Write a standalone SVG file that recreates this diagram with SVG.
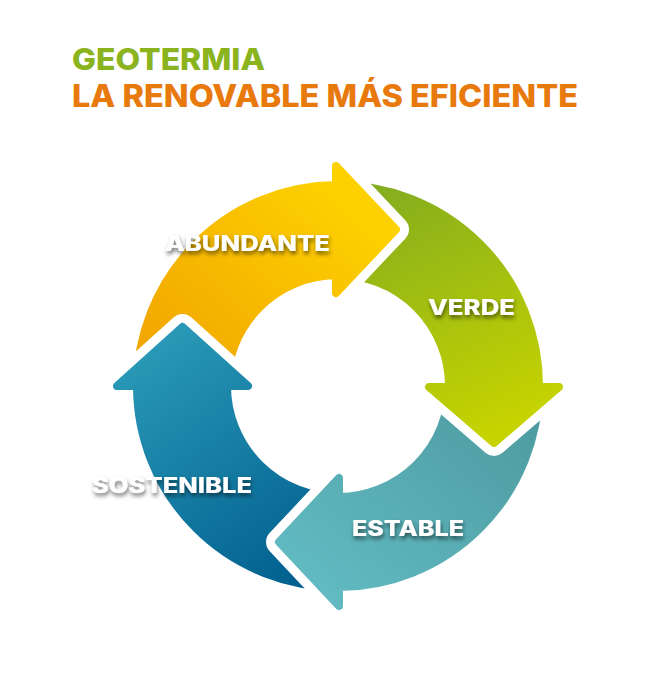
<svg xmlns="http://www.w3.org/2000/svg" width="671" height="676" viewBox="0 0 671 676">
<style>
.title{font-family:Inter,"Open Sans","Liberation Sans",sans-serif;font-weight:800}
.lbl{font-family:Inter,"Open Sans","Liberation Sans",sans-serif;font-weight:800;font-size:21px;fill:#ffffff;filter:url(#sh)}
.arrow{stroke-width:8;stroke-linejoin:round}
.cut{fill:#000;stroke:#000;stroke-width:26;stroke-linejoin:round}
</style>
<defs>
<linearGradient id="gA" x1="0" y1="1" x2="0.85" y2="0.2"><stop offset="0" stop-color="#f0a000"/><stop offset="1" stop-color="#fdd100"/></linearGradient>
<linearGradient id="gV" x1="0.2" y1="0" x2="0.6" y2="1"><stop offset="0" stop-color="#84ad1e"/><stop offset="1" stop-color="#c6d300"/></linearGradient>
<linearGradient id="gE" x1="1" y1="0" x2="0" y2="1"><stop offset="0" stop-color="#4c999e"/><stop offset="1" stop-color="#64bec6"/></linearGradient>
<linearGradient id="gS" x1="0.2" y1="0" x2="0.8" y2="1"><stop offset="0" stop-color="#2b9ab8"/><stop offset="1" stop-color="#005f8e"/></linearGradient>
<filter id="sh" x="-20%" y="-50%" width="140%" height="200%"><feDropShadow dx="1" dy="3" stdDeviation="2" flood-color="#000" flood-opacity="0.55"/></filter>
<mask id="mV" maskUnits="userSpaceOnUse" x="0" y="0" width="671" height="676"><rect width="671" height="676" fill="#fff"/><polygon class="cut" points="336,166 396,229.5 336,293"/></mask>
<mask id="mE" maskUnits="userSpaceOnUse" x="0" y="0" width="671" height="676"><rect width="671" height="676" fill="#fff"/><polygon class="cut" points="559,387 494,443 429,387"/></mask>
<mask id="mS" maskUnits="userSpaceOnUse" x="0" y="0" width="671" height="676"><rect width="671" height="676" fill="#fff"/><polygon class="cut" points="339,606 279,542 339,478"/></mask>
<mask id="mA" maskUnits="userSpaceOnUse" x="0" y="0" width="671" height="676"><rect width="671" height="676" fill="#fff"/><polygon class="cut" points="117,386 182.5,327 248,386"/></mask>
</defs>
<rect width="671" height="676" fill="#ffffff"/>
<g id="title">
<text class="title" x="72" y="70" font-size="30" fill="#8ab31d" textLength="193" lengthAdjust="spacingAndGlyphs">GEOTERMIA</text>
<text class="title" x="72" y="107" font-size="31" fill="#e8790c" textLength="506" lengthAdjust="spacingAndGlyphs">LA RENOVABLE MÁS EFICIENTE</text>
</g>
<g id="verde">
<path class="arrow" mask="url(#mV)" fill="url(#gV)" stroke="url(#gV)" d="M336,185 A201,201 0 0 1 539,387 L559,387 L494,443 L429,387 L449,387 A111,111 0 0 0 336,275 Z"/>
<text class="lbl" x="428" y="315" textLength="87" lengthAdjust="spacingAndGlyphs">VERDE</text>
</g>
<g id="estable">
<path class="arrow" mask="url(#mE)" fill="url(#gE)" stroke="url(#gE)" d="M539,387 A201,201 0 0 1 339,587 L339,606 L279,542 L339,478 L339,497 A111,111 0 0 0 449,387 Z"/>
<text class="lbl" x="352" y="536" textLength="112" lengthAdjust="spacingAndGlyphs">ESTABLE</text>
</g>
<g id="sostenible">
<path class="arrow" mask="url(#mS)" fill="url(#gS)" stroke="url(#gS)" d="M339,587 A201,201 0 0 1 137,386 L117,386 L182.5,327 L248,386 L227,386 A111,111 0 0 0 339,497 Z"/>
<text class="lbl" x="92" y="493" textLength="160" lengthAdjust="spacingAndGlyphs">SOSTENIBLE</text>
</g>
<g id="abundante">
<path class="arrow" mask="url(#mA)" fill="url(#gA)" stroke="url(#gA)" d="M137,386 A201,201 0 0 1 336,185 L336,166 L396,229.5 L336,293 L336,275 A111,111 0 0 0 227,386 Z"/>
<text class="lbl" x="165" y="251" textLength="165" lengthAdjust="spacingAndGlyphs">ABUNDANTE</text>
</g>
</svg>
